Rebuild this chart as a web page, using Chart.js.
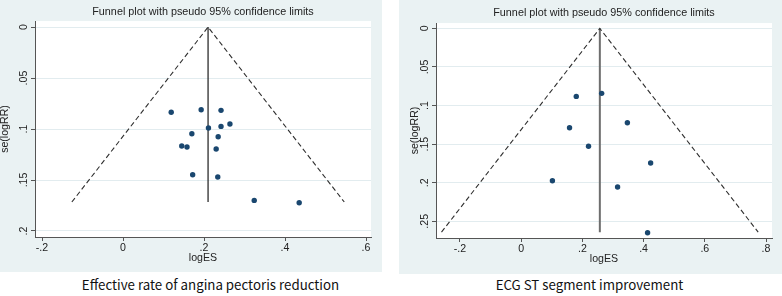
<!DOCTYPE html>
<html>
<head>
<meta charset="utf-8">
<script src="https://cdn.jsdelivr.net/npm/chart.js@4.4.0/dist/chart.umd.min.js"></script>
<style>
    body { margin: 0; width: 782px; height: 296px; background: #fff; position: relative; overflow: hidden; }
    .panel { position: absolute; background: #eaf2f3; }
    .caption { position: absolute; font-family: "Noto Sans CJK SC"; font-size: 13.3px; line-height: 20px; color: #111; text-align: center; white-space: nowrap; }
</style>
</head>
<body>
<div class="panel" style="left:0;top:0;width:382px;height:272px"><canvas id="anginaChart"></canvas></div>
<div class="panel" style="left:399px;top:0;width:383px;height:274px"><canvas id="ecgChart"></canvas></div>
<div class="caption" style="left:60px;top:275px;width:301px">Effective rate of angina pectoris reduction</div>
<div class="caption" style="left:489px;top:275px;width:201px">ECG ST segment improvement</div>
<script>
/*************************************************
 * Funnel plots (pseudo 95% confidence limits)   *
 *************************************************/
const titleText = 'Funnel plot with pseudo 95% confidence limits';

// Effective rate of angina pectoris reduction
const anginaLogES = [0.119, 0.193, 0.242, 0.264, 0.242, 0.211, 0.170, 0.235, 0.145, 0.158, 0.230, 0.172, 0.234, 0.324, 0.435];
const anginaSE = [0.0836, 0.0811, 0.0817, 0.0951, 0.0974, 0.099, 0.1046, 0.1075, 0.1167, 0.1176, 0.1196, 0.1448, 0.147, 0.170, 0.1723];
const anginaPooled = 0.21;
const anginaSEMax = 0.1716;
const anginaXTicks = [-0.2, 0, 0.2, 0.4, 0.6];
const anginaYTicks = [0, 0.05, 0.1, 0.15, 0.2];

// ECG ST segment improvement
const ecgLogES = [0.180, 0.263, 0.347, 0.158, 0.220, 0.423, 0.102, 0.315, 0.413];
const ecgSE = [0.0881, 0.0842, 0.1223, 0.1288, 0.1528, 0.1745, 0.1974, 0.2056, 0.2648];
const ecgPooled = 0.257;
const ecgSEMax = 0.264;
const ecgXTicks = [-0.2, 0, 0.2, 0.4, 0.6, 0.8];
const ecgYTicks = [0, 0.05, 0.1, 0.15, 0.2, 0.25];

const FONT = 'Liberation Sans';
const AXIS_COLOR = '#555';

// stata style labels: .2 / -.2 / 0
function stataLabel(v) {
    if (v === 0) return '0';
    return String(+v.toFixed(2)).replace('0.', '.');
}

// white plot region inside the light panel
const plotBg = {
    id: 'plotBg',
    beforeDraw(chart) {
        const {ctx, chartArea: a} = chart;
        ctx.save();
        ctx.fillStyle = '#fff';
        ctx.fillRect(a.left, a.top, a.width, a.height);
        ctx.restore();
    }
};

function funnelChart(id, cfg) {
    const points = cfg.logES.map((x, i) => ({x: x, y: cfg.se[i]}));
    const z = 1.96 * cfg.seMax;
    return new Chart(document.getElementById(id).getContext('2d'), {
        type: 'scatter',
        data: {
            datasets: [{
                data: points,
                backgroundColor: '#1a476f',
                borderWidth: 0,
                pointRadius: 2.7
            }, {
                data: [{x: cfg.pooled - z, y: cfg.seMax}, {x: cfg.pooled, y: 0}, {x: cfg.pooled + z, y: cfg.seMax}],
                showLine: true,
                borderColor: '#2e2e2e',
                borderWidth: 1.1,
                borderDash: [5, 3],
                pointRadius: 0
            }, {
                data: [{x: cfg.pooled, y: 0}, {x: cfg.pooled, y: cfg.seMax}],
                showLine: true,
                borderColor: cfg.lineColor,
                borderWidth: cfg.lineWidth,
                pointRadius: 0
            }]
        },
        options: {
            responsive: true,
            maintainAspectRatio: false,
            animation: false,
            layout: {
                padding: {top: 0, left: 0, right: cfg.padRight, bottom: 0}
            },
            scales: {
                x: {
                    type: 'linear',
                    min: cfg.xMin,
                    max: cfg.xMax,
                    afterBuildTicks: s => { s.ticks = cfg.xTicks.map(v => ({value: v})); },
                    afterFit: s => { s.height = cfg.bottomH; },
                    grid: {drawOnChartArea: false, tickLength: 4, tickColor: AXIS_COLOR},
                    border: {color: AXIS_COLOR},
                    ticks: {
                        padding: 1,
                        color: '#222',
                        maxRotation: 0,
                        autoSkip: false,
                        font: {family: FONT, size: 10.6},
                        callback: v => stataLabel(v)
                    },
                    title: {
                        display: true,
                        text: 'logES',
                        color: '#222',
                        font: {family: FONT, size: 10.6},
                        padding: {top: 0, bottom: cfg.xTitlePad}
                    }
                },
                y: {
                    reverse: true,
                    min: cfg.yMin,
                    max: cfg.yMax,
                    afterBuildTicks: s => { s.ticks = cfg.yTicks.map(v => ({value: v})); },
                    afterFit: s => { s.width = cfg.leftW; },
                    grid: {color: '#e2ecef', tickLength: 4, tickColor: AXIS_COLOR},
                    border: {color: AXIS_COLOR},
                    ticks: {
                        padding: 0,
                        color: '#222',
                        minRotation: 90,
                        maxRotation: 90,
                        crossAlign: 'center',
                        autoSkip: false,
                        font: {family: FONT, size: 10.6},
                        callback: v => stataLabel(v)
                    },
                    title: {
                        display: true,
                        text: 'se(logRR)',
                        color: '#222',
                        font: {family: FONT, size: 10.6},
                        padding: {top: cfg.yTitlePad, bottom: 0}
                    }
                }
            },
            plugins: {
                legend: {display: false},
                tooltip: {enabled: false},
                title: {
                    display: true,
                    text: titleText,
                    fullSize: false,
                    color: '#222',
                    font: {family: FONT, size: 10.8, weight: 'normal'},
                    padding: {top: cfg.titleTop, bottom: cfg.titleBottom}
                }
            }
        },
        plugins: [plotBg]
    });
}

const anginaChart = funnelChart('anginaChart', {
    logES: anginaLogES, se: anginaSE, pooled: anginaPooled, seMax: anginaSEMax,
    xTicks: anginaXTicks, yTicks: anginaYTicks,
    xMin: -0.2173, xMax: 0.6123, yMin: -0.0059, yMax: 0.2059,
    leftW: 35, bottomH: 35, padRight: 11, titleTop: 5.5, titleBottom: 2.6,
    xTitlePad: 7.6, yTitlePad: -1.4,
    lineColor: '#1c1c1c', lineWidth: 1.2
});

const ecgChart = funnelChart('ecgChart', {
    logES: ecgLogES, se: ecgSE, pooled: ecgPooled, seMax: ecgSEMax,
    xTicks: ecgXTicks, yTicks: ecgYTicks,
    xMin: -0.2784, xMax: 0.8196, yMin: -0.0069, yMax: 0.2716,
    leftW: 37, bottomH: 36, padRight: 10, titleTop: 7, titleBottom: 3.1,
    xTitlePad: 8.6, yTitlePad: 9.6,
    lineColor: '#6e6e6e', lineWidth: 2
});
</script>
</body>
</html>
